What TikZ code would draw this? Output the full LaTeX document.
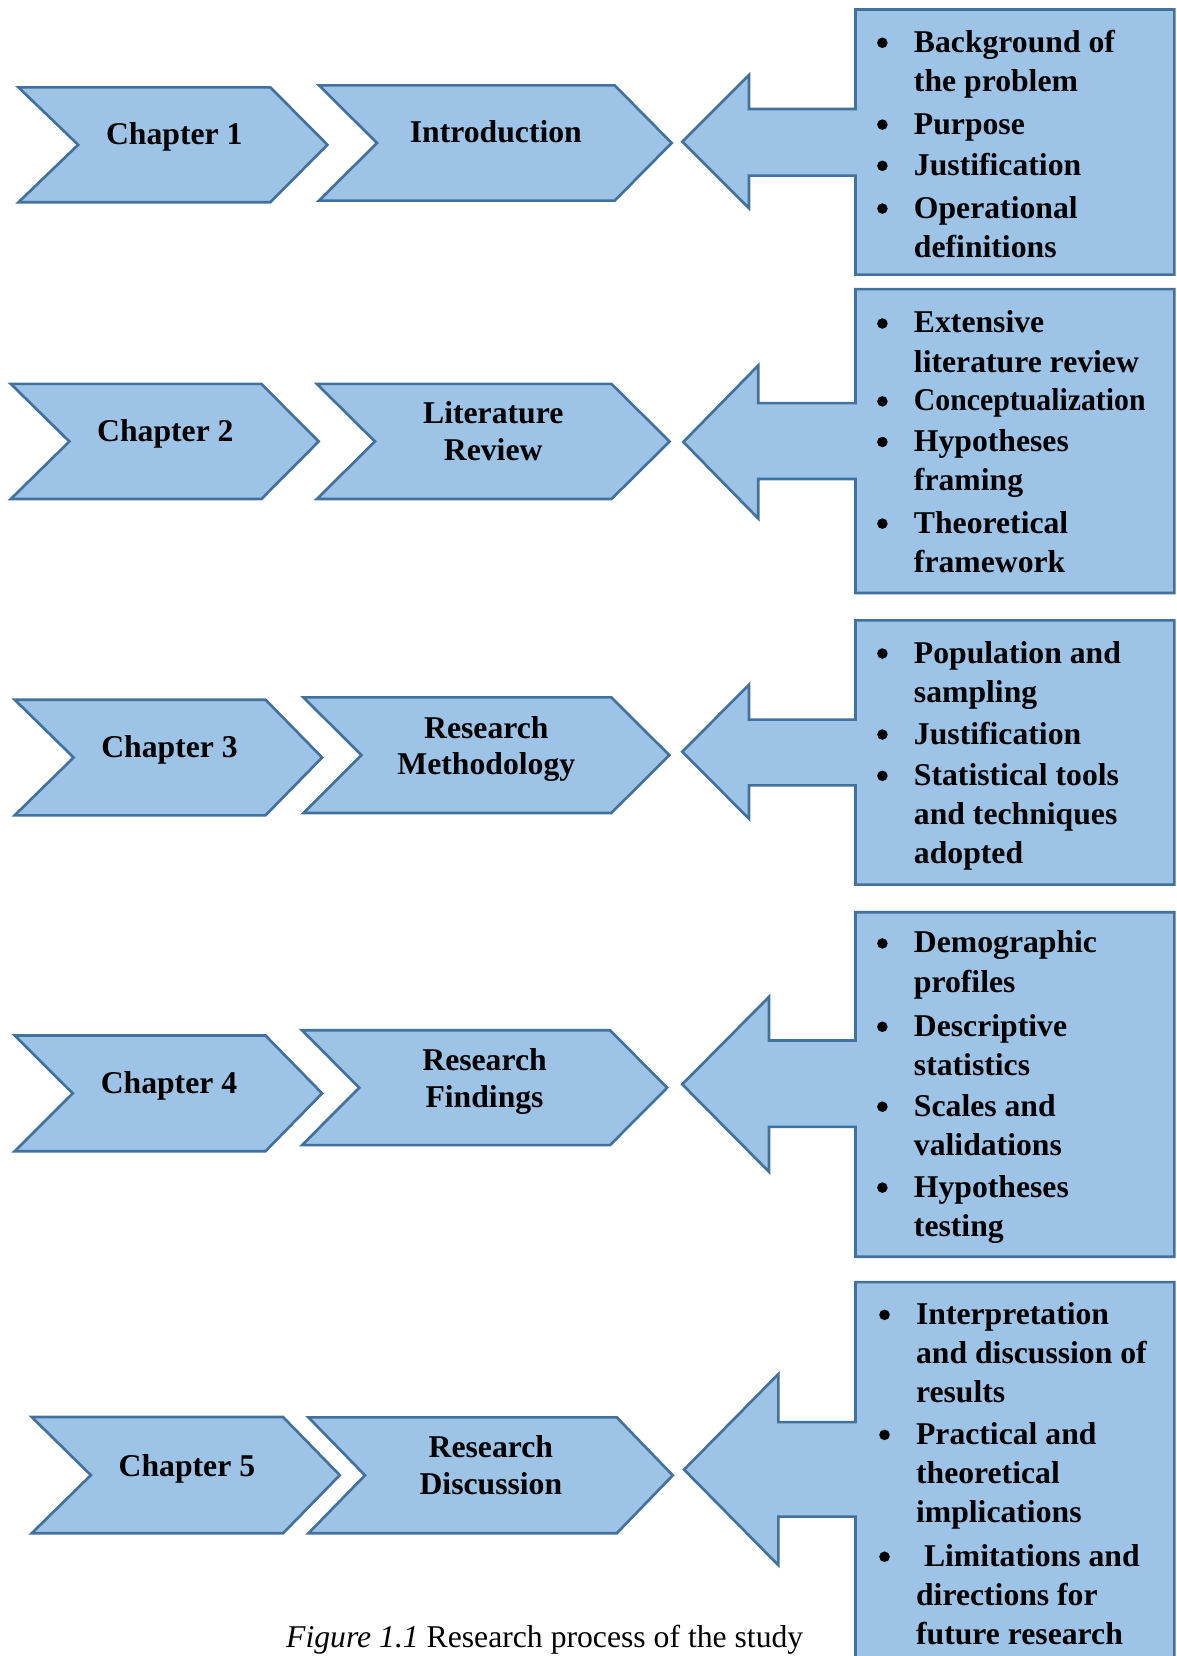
\documentclass[tikz,border=0pt]{standalone}
\usepackage{fontspec}
\usepackage{graphicx}
\setmainfont{Liberation Serif}

\definecolor{boxfill}{RGB}{157,195,230}
\definecolor{boxedge}{RGB}{65,113,156}

\tikzset{
  blockshape/.style={draw=boxedge, fill=boxfill, line width=1.25pt, line join=miter},
  chevtext/.style={inner sep=0pt, anchor=base},
  itemtext/.style={inner sep=0pt, anchor=base west},
  bulletdot/.style={fill=black},
  captiontext/.style={inner sep=0pt, anchor=base west, font=\fontsize{15}{18}\selectfont},
}

% text blocks whose baseline is the baseline of their first line
\newcommand\chevlines[1]{{\fontsize{15}{17.5}\selectfont\bfseries
  \begin{tabular}[t]{@{}c@{}}#1\end{tabular}}}
\newcommand\itemlines[1]{{\fontsize{15}{18.5}\selectfont\bfseries
  \begin{tabular}[t]{@{}l@{}}#1\end{tabular}}}

% chevron: left, notch, shoulder, point, top, bottom
\newcommand\chevronshape[6]{%
  \draw[blockshape] (#1,#5) -- (#3,#5) -- (#4,{(#5+#6)/2}) -- (#3,#6)
    -- (#1,#6) -- (#2,{(#5+#6)/2}) -- cycle;}

% box with a left-pointing arrow:
% tip x, tip y, head x, head top, head bottom, shaft top, shaft bottom, box top, box bottom
\newcommand\calloutshape[9]{%
  \draw[blockshape] (810,#8) -- (1112,#8) -- (1112,#9) -- (810,#9) -- (810,#7)
    -- (#3,#7) -- (#3,#5) -- (#1,#2) -- (#3,#4) -- (#3,#6) -- (810,#6) -- cycle;}

% bullet item: name, x, first baseline, text
\newcommand\bitem[4]{%
  \fill[bulletdot] (#2-29.5,#3-9) circle (5);
  \node[itemtext] (#1) at (#2,#3) {\itemlines{#4}};}

\begin{document}
\begin{tikzpicture}[x=0.5pt, y=-0.5pt]
\clip (0,0) rectangle (1114,1568);

% ---------- Chapter 1 ----------
\chevronshape{17.5}{74}{256}{310}{82.7}{191.5}
\node[chevtext] (c1) at (165,137) {\chevlines{Chapter 1}};
\chevronshape{302}{357}{582}{636}{80.8}{190}
\node[chevtext] (t1) at (469.5,135) {\chevlines{Introduction}};
\calloutshape{646}{134.1}{709.2}{71}{197.2}{103.2}{166.3}{9}{260}
\bitem{b11}{865}{49.5}{Background of\\the problem}
\bitem{b12}{865}{127}{Purpose}
\bitem{b13}{865}{166}{Justification}
\bitem{b14}{865}{206.5}{Operational\\definitions}

% ---------- Chapter 2 ----------
\chevronshape{10.2}{65.7}{247.5}{301.7}{363.5}{472.5}
\node[chevtext] (c2) at (156.6,418) {\chevlines{Chapter 2}};
\chevronshape{300}{355}{579}{634}{363.5}{472.5}
\node[chevtext] (t2) at (467,401) {\chevlines{Literature\\Review}};
\calloutshape{647}{418.5}{718}{346}{491}{381.7}{453.6}{273.8}{561.5}
\bitem{b21}{865}{315.3}{Extensive\\literature review}
\bitem{b22}{865}{389}{\scalebox{0.94}[1]{Conceptualization}}
\bitem{b23}{865}{427.5}{Hypotheses\\framing}
\bitem{b24}{865}{504.8}{Theoretical\\framework}

% ---------- Chapter 3 ----------
\chevronshape{13.9}{69.7}{251.4}{305}{662.5}{772}
\node[chevtext] (c3) at (160.5,716.8) {\chevlines{Chapter 3}};
\chevronshape{287.3}{342.2}{578.8}{633.8}{660.3}{769.8}
\node[chevtext] (t3) at (460.5,698.8) {\chevlines{Research\\Methodology}};
\calloutshape{646}{711.8}{709.2}{648.3}{775.2}{681.4}{743.6}{587.4}{837.6}
\bitem{b31}{865}{627.8}{Population and\\sampling}
\bitem{b32}{865}{704.5}{Justification}
\bitem{b33}{865}{743.6}{Statistical tools\\and techniques\\adopted}

% ---------- Chapter 4 ----------
\chevronshape{13.9}{68.9}{251.4}{305}{980.5}{1090}
\node[chevtext] (c4) at (160,1035.7) {\chevlines{Chapter 4}};
\chevronshape{286}{340.1}{577.6}{631.7}{975.5}{1084.3}
\node[chevtext] (t4) at (458.8,1013.3) {\chevlines{Research\\Findings}};
\calloutshape{646}{1026.7}{728.1}{943.9}{1109.5}{985.2}{1067}{863.8}{1190}
\bitem{b41}{865}{902.3}{Demographic\\profiles}
\bitem{b42}{865}{981.2}{Descriptive\\statistics}
\bitem{b43}{865}{1056.9}{Scales and\\validations}
\bitem{b44}{865}{1133.5}{Hypotheses\\testing}

% ---------- Chapter 5 ----------
\chevronshape{30}{86}{268}{321.7}{1341.7}{1451.8}
\node[chevtext] (c5) at (177,1397.6) {\chevlines{Chapter 5}};
\chevronshape{292}{345.6}{584}{637}{1342}{1451.8}
\node[chevtext] (t5) at (464.8,1380.2) {\chevlines{Research\\Discussion}};
\calloutshape{647.7}{1391.5}{737}{1301}{1482}{1346.5}{1436}{1214}{1620}
\bitem{b51}{867}{1254}{Interpretation\\and discussion of\\results}
\bitem{b52}{867}{1367.6}{Practical and\\theoretical\\implications}
\bitem{b53}{867}{1483}{\hspace{0.25em}Limitations and\\directions for\\future research}

% ---------- caption ----------
\node[captiontext] (caption) at (270.6,1560) {\textit{Figure 1.1} Research process of the study};
\end{tikzpicture}
\end{document}
